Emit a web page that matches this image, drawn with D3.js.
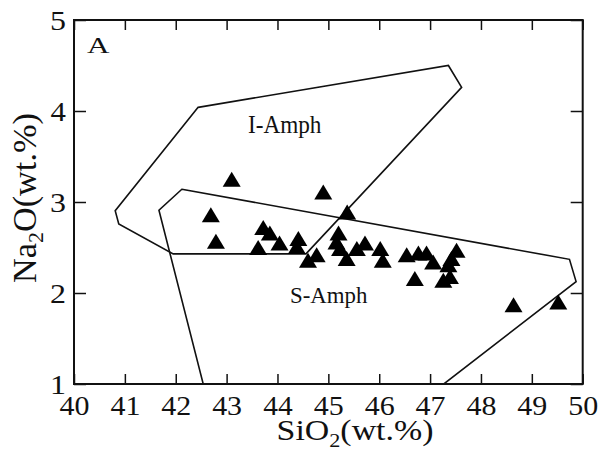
<!DOCTYPE html>
<html><head><meta charset="utf-8">
<script src="https://cdn.jsdelivr.net/npm/d3@7"></script>
<style>html,body{margin:0;padding:0;background:#fff}svg{display:block}
text{font-family:'Liberation Serif','Times New Roman',Times,serif;fill:#111}</style>
</head><body><svg id="c" width="600" height="459"></svg>
<script>
const xTicks = [40,41,42,43,44,45,46,47,48,49,50];
const yTicks = [1,2,3,4,5];
const iAmph = [[42.44,4.04],[47.36,4.50],[47.62,4.26],[44.56,2.43],[41.95,2.43],[40.88,2.76],[40.81,2.905]];
const sAmph = [[42.12,3.14],[49.74,2.37],[49.87,2.125],[47.27,1.0],[42.54,1.0],[41.67,2.91]];
const sio2 = [42.69,42.79,43.10,43.62,43.72,43.85,44.04,44.38,44.41,44.60,44.77,44.90,45.20,45.16,45.23,45.37,45.36,45.56,45.72,46.02,46.07,46.54,46.77,46.93,47.06,46.70,47.52,47.42,47.36,47.26,47.39,48.64,49.52];
const na2o = [2.86,2.57,3.25,2.50,2.72,2.66,2.55,2.51,2.60,2.36,2.42,3.11,2.66,2.56,2.49,2.89,2.38,2.49,2.55,2.49,2.36,2.42,2.44,2.44,2.34,2.16,2.47,2.38,2.31,2.14,2.18,1.87,1.90];

const svg = d3.select('#c');
const L=74,R=582.7,T=20,B=384;
const x = d3.scaleLinear().domain([40,50]).range([L,R]);
const y = d3.scaleLinear().domain([1,5]).range([B,T]);

function fit(sel, base, w){
  const bw = sel.node().getBBox().width;
  sel.attr('transform', base + ` scale(${w/bw},1)`);
}

const line = d3.line().x(d=>x(d[0])).y(d=>y(d[1])).curve(d3.curveLinearClosed);
svg.append('path').attr('d',line(iAmph)).attr('fill','none').attr('stroke','#111').attr('stroke-width',1.6);
svg.append('path').attr('d',line(sAmph)).attr('fill','none').attr('stroke','#111').attr('stroke-width',1.6);

function style(g){ g.select('.domain').remove(); g.selectAll('line').attr('stroke','#111').attr('stroke-width',1.5); }
svg.append('g').attr('transform',`translate(0,${B})`)
  .call(d3.axisBottom(x).tickValues(xTicks).tickSizeInner(-10).tickSizeOuter(0).tickFormat(d3.format('d')))
  .call(style)
  .call(g=>g.selectAll('text').attr('y',0).attr('dy',0).attr('font-size',27).attr('fill','#111')
     .each(function(){ fit(d3.select(this),'translate(0,31)',30); }));
svg.append('g').attr('transform',`translate(0,${T})`)
  .call(d3.axisTop(x).tickValues(xTicks).tickSizeInner(-10).tickSizeOuter(0).tickFormat(''))
  .call(style);
svg.append('g').attr('transform',`translate(${L},0)`)
  .call(d3.axisLeft(y).tickValues(yTicks).tickSizeInner(-12).tickSizeOuter(0).tickFormat(d3.format('d')))
  .call(style)
  .call(g=>g.selectAll('text').attr('x',0).attr('dy','0.34em').attr('font-size',27).attr('fill','#111')
     .each(function(){ fit(d3.select(this),'translate(-8,0)',16); }));
svg.append('g').attr('transform',`translate(${R},0)`)
  .call(d3.axisRight(y).tickValues(yTicks).tickSizeInner(-12).tickSizeOuter(0).tickFormat(''))
  .call(style);

svg.append('rect').attr('x',L).attr('y',T).attr('width',R-L).attr('height',B-T)
  .attr('fill','none').attr('stroke','#111').attr('stroke-width',2);

svg.append('g').selectAll('path').data(sio2.map((s,i)=>[s,na2o[i]])).join('path')
  .attr('transform',d=>`translate(${x(d[0])},${y(d[1])})`)
  .attr('d','M0,-7.5L9,7.5L-9,7.5Z').attr('fill','#000');

const tA = svg.append('text').attr('font-size',23).text('A'); fit(tA,'translate(87,53)',23);
const tI = svg.append('text').attr('font-size',25).text('I-Amph'); fit(tI,'translate(248,133)',74);
const tS = svg.append('text').attr('font-size',23).text('S-Amph'); fit(tS,'translate(290,303)',78);

const xt = svg.append('text').attr('text-anchor','middle').attr('font-size',29);
xt.append('tspan').text('SiO');
xt.append('tspan').attr('font-size',19).attr('dy',7).text('2');
xt.append('tspan').attr('dy',-7).text('(wt.%)');
fit(xt,'translate(355,440)',157);

const yt = svg.append('text').attr('text-anchor','middle').attr('font-size',33);
yt.append('tspan').text('Na');
yt.append('tspan').attr('font-size',21).attr('dy',7).text('2');
yt.append('tspan').attr('dy',-7).text('O(wt.%)');
fit(yt,'translate(36,198) rotate(-90)',170);
</script></body></html>
